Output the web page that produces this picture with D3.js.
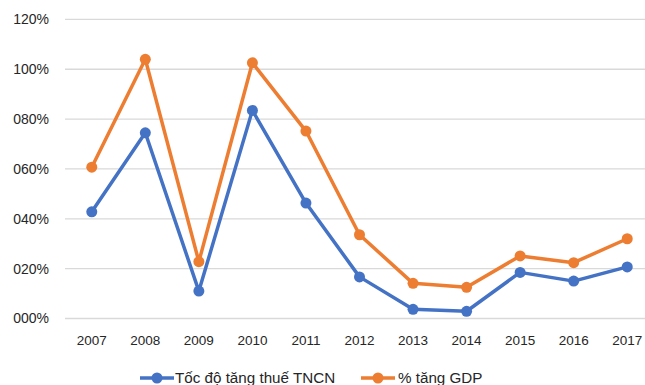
<!DOCTYPE html>
<html>
<head>
<meta charset="utf-8">
<script src="https://cdn.jsdelivr.net/npm/d3@7/dist/d3.min.js"></script>
<style>
  html, body { margin: 0; padding: 0; background: #fff; overflow: hidden; }
  svg { display: block; font-family: "Liberation Sans", Arial, sans-serif; }
</style>
</head>
<body>
<svg id="chart" width="645" height="385"></svg>
<script>
const years = ["2007","2008","2009","2010","2011","2012","2013","2014","2015","2016","2017"];
const taxGrowth = [42.8, 74.5, 11.0, 83.5, 46.3, 16.7, 3.7, 2.9, 18.5, 15.0, 20.7];
const gdpGrowth = [60.7, 104.0, 22.8, 102.6, 75.2, 33.6, 14.1, 12.5, 25.1, 22.4, 32.0];
const yTicks = [0, 20, 40, 60, 80, 100, 120];
const seriesNames = ["Tốc độ tăng thuế TNCN", "% tăng GDP"];
const seriesColors = ["#4472C4", "#ED7D31"];

const svg = d3.select("#chart");

const x = d3.scaleBand().domain(years).range([65, 654]);
const y = d3.scaleLinear().domain([0, 120]).range([318.5, 19.4]);
const cx = d => x(d) + x.bandwidth() / 2;

// Horizontal gridlines
svg.append("g").selectAll("line").data(yTicks).join("line")
  .attr("x1", 65).attr("x2", 654)
  .attr("y1", d => y(d)).attr("y2", d => y(d))
  .attr("stroke", "#d9d9d9").attr("stroke-width", 1.3);

// Y axis labels
const fmtPct = d => String(d).padStart(3, "0") + "%";
svg.append("g").selectAll("text").data(yTicks).join("text")
  .attr("x", 49).attr("y", d => y(d)).attr("dy", "0.35em")
  .attr("text-anchor", "end").attr("font-size", 14).attr("fill", "#262626")
  .text(fmtPct);

// X axis labels
svg.append("g").selectAll("text").data(years).join("text")
  .attr("x", d => cx(d)).attr("y", 340).attr("dy", "0.35em")
  .attr("text-anchor", "middle").attr("font-size", 13.5).attr("fill", "#262626")
  .text(d => d);

// Lines with markers
const series = [taxGrowth, gdpGrowth];
const line = d3.line().x((d, i) => cx(years[i])).y(d => y(d));
series.forEach((vals, s) => {
  const g = svg.append("g");
  g.append("path").datum(vals)
    .attr("d", line).attr("fill", "none")
    .attr("stroke", seriesColors[s]).attr("stroke-width", 3.5)
    .attr("stroke-linejoin", "round");
  g.selectAll("circle").data(vals).join("circle")
    .attr("cx", (d, i) => cx(years[i])).attr("cy", d => y(d))
    .attr("r", 5.5).attr("fill", seriesColors[s]);
});

// Legend
const legendItems = [{x: 140, tx: 175}, {x: 361, tx: 398}];
legendItems.forEach((it, s) => {
  const g = svg.append("g");
  g.append("line").attr("x1", it.x).attr("x2", it.x + 34)
    .attr("y1", 378).attr("y2", 378)
    .attr("stroke", seriesColors[s]).attr("stroke-width", 3.5);
  g.append("circle").attr("cx", it.x + 17).attr("cy", 378).attr("r", 5.5)
    .attr("fill", seriesColors[s]);
  g.append("text").attr("x", it.tx).attr("y", 378).attr("dy", "0.35em")
    .attr("font-size", 15.2).attr("fill", "#262626").text(seriesNames[s]);
});
</script>
</body>
</html>
